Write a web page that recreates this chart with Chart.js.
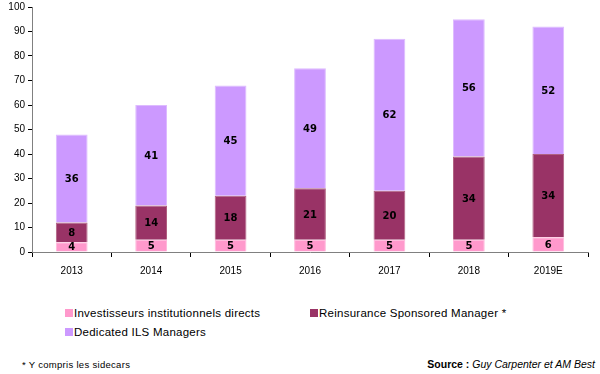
<!DOCTYPE html>
<html lang="fr">
<head>
<meta charset="UTF-8">
<script src="https://cdn.jsdelivr.net/npm/chart.js@4/dist/chart.umd.min.js"></script>
<style>
  body { margin:0; background:#fff; overflow:hidden; }
  #wrap { position:relative; width:600px; height:374px; overflow:hidden; font-family:Arial, "Liberation Sans", sans-serif; color:#000; }
  #chartBox { position:absolute; left:0; top:-2px; width:600px; height:287px; }
  .lg { position:absolute; font-size:11.5px; letter-spacing:0.25px; white-space:nowrap; line-height:14px; }
  .lg i { display:inline-block; width:8px; height:8px; margin-right:1px; vertical-align:0px; }
  #note { position:absolute; left:22px; top:359px; font-size:9.5px; letter-spacing:0.3px; }
  #src { position:absolute; right:5px; top:358px; font-size:10.5px; }
</style>
</head>
<body>
<div id="wrap">
  <div id="chartBox"><canvas id="myChart"></canvas></div>
  <div class="lg" style="left:65px;top:306px"><i style="background:#FF99CC"></i>Investisseurs institutionnels directs</div>
  <div class="lg" style="left:310px;top:306px"><i style="background:#993366"></i>Reinsurance Sponsored Manager *</div>
  <div class="lg" style="left:65px;top:325px"><i style="background:#CC99FF"></i>Dedicated ILS Managers</div>
  <div id="note">* Y compris les sidecars</div>
  <div id="src"><b>Source :</b> <i>Guy Carpenter et AM Best</i></div>
</div>
<script>
// data
var years = ['2013', '2014', '2015', '2016', '2017', '2018', '2019E'];
var investisseurs = [4, 5, 5, 5, 5, 5, 6];
var reinsurance = [8, 14, 18, 21, 20, 34, 34];
var dedicated = [36, 41, 45, 49, 62, 56, 52];
var yTicks = [0, 10, 20, 30, 40, 50, 60, 70, 80, 90, 100];

// numbers in the middle of each segment
var segLabels = {
  id: 'segLabels',
  afterDatasetsDraw: function(chart) {
    var ctx = chart.ctx;
    ctx.save();
    ctx.font = 'bold 10px "DejaVu Sans", Verdana, sans-serif';
    ctx.fillStyle = '#000';
    ctx.textAlign = 'center';
    ctx.textBaseline = 'middle';
    chart.data.datasets.forEach(function(ds, di) {
      chart.getDatasetMeta(di).data.forEach(function(bar, i) {
        var p = bar.getCenterPoint();
        ctx.fillText(ds.data[i], p.x, p.y + 1);
      });
    });
    ctx.restore();
  }
};

var ctx = document.getElementById('myChart').getContext('2d');
new Chart(ctx, {
  type: 'bar',
  data: {
    labels: years,
    datasets: [
      { label: 'Investisseurs institutionnels directs', data: investisseurs, backgroundColor: '#FF99CC', borderColor: '#FFB8DC', borderWidth: 1 },
      { label: 'Reinsurance Sponsored Manager *', data: reinsurance, backgroundColor: '#993366', borderColor: '#B06080', borderWidth: 1 },
      { label: 'Dedicated ILS Managers', data: dedicated, backgroundColor: '#CC99FF', borderColor: '#DDBBFF', borderWidth: 1 }
    ]
  },
  options: {
    responsive: true,
    maintainAspectRatio: false,
    animation: false,
    layout: { padding: { top: 0, right: 12, left: 0, bottom: 0 } },
    categoryPercentage: 1,
    barPercentage: 0.4,
    plugins: { legend: { display: false }, tooltip: { enabled: false } },
    scales: {
      x: {
        stacked: true,
        grid: { display: true, drawOnChartArea: false, offset: true, tickLength: 5, color: '#000' },
        border: { color: '#808080', width: 1 },
        ticks: { color: '#000', font: { family: 'Arial', size: 10 }, padding: 8, maxRotation: 0 }
      },
      y: {
        stacked: true,
        min: 0,
        max: 100,
        afterFit: function(s) { s.width = 32; },
        afterBuildTicks: function(s) { s.ticks = yTicks.map(function(v) { return { value: v }; }); },
        grid: { display: true, drawOnChartArea: false, tickLength: 4, color: '#000' },
        border: { color: '#808080', width: 1 },
        ticks: { color: '#000', font: { family: 'Arial', size: 10 }, padding: 3 }
      }
    }
  },
  plugins: [segLabels]
});
</script>
</body>
</html>
